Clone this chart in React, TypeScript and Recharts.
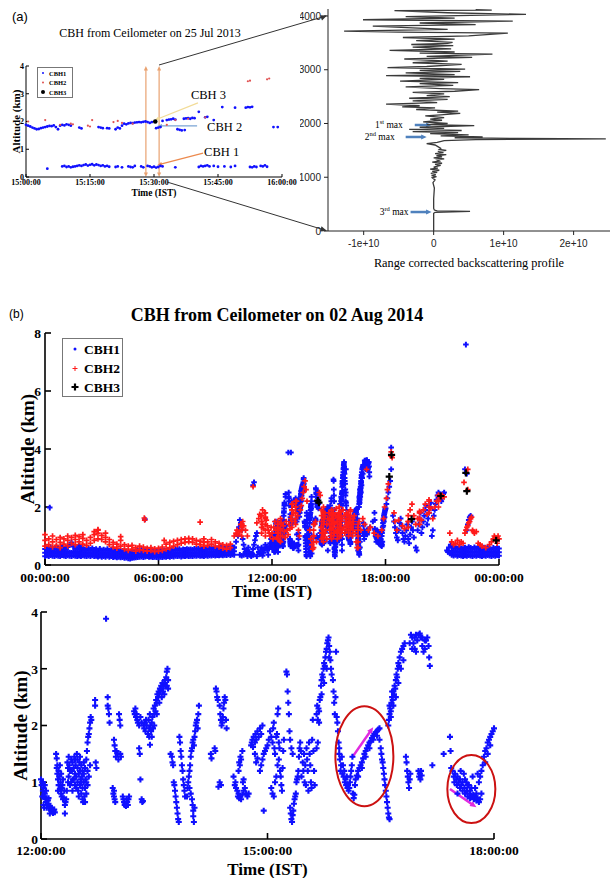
import React from "react";
import { ScatterChart, Scatter, XAxis, YAxis, ReferenceLine, ReferenceDot, Legend } from "recharts";

const SERIF = "'Liberation Serif', 'Times New Roman', serif";
const SANS = "'Liberation Sans', Arial, sans-serif";
const BLUE = "#1010ff";
const RED = "#ff1a1a";
const BLACK = "#000000";

// ---------- Panel (a) left : minutes after 15:00, altitude km ----------
const A_TICKS = [0, 15, 30, 45, 60];
const A_TICK_LABELS = ["15:00:00", "15:15:00", "15:30:00", "15:45:00", "16:00:00"];
const A_YTICKS = [0, 1, 2, 3, 4];
const A_CBH1: [number, number][] = [
  [0, 1.88], [0.5, 1.85], [1, 1.82], [1.5, 1.78], [2, 1.75], [2.5, 1.72], [3, 1.73], [3.5, 1.76], [4, 1.78], [4.5, 1.8],
  [5, 1.82], [5.5, 1.84], [6, 1.83], [6.5, 1.86], [7, 1.8], [7.5, 1.72], [8, 1.85], [8.5, 1.88], [9, 1.86], [9.5, 1.9],
  [10, 1.88], [10.5, 1.85], [12.5, 1.78], [13, 1.75], [17, 1.8], [17.5, 1.78], [18, 1.76], [19, 1.76], [19.5, 1.75],
  [21, 1.72], [21.5, 1.78], [22, 1.75], [22.5, 1.85], [23, 1.92], [23.5, 1.9], [24, 1.93], [24.5, 1.95], [25, 1.94],
  [25.5, 1.96], [26, 1.97], [26.5, 1.98], [27, 1.97], [27.5, 1.99], [28, 2.0], [28.5, 1.98], [29, 1.95], [29.5, 1.98],
  [30.5, 1.76], [31, 1.78], [31.5, 1.8], [32, 2.02], [33, 2.05], [33.5, 2.07], [34, 2.08], [34.5, 2.1], [35, 2.07],
  [35.5, 1.72], [36, 1.7], [36.5, 1.68], [37.2, 1.69], [37, 2.1], [37.5, 2.11], [38, 2.12], [38.5, 2.1], [39, 2.13],
  [39.5, 2.12], [40.5, 2.35], [42, 2.15], [42.5, 2.17], [44, 2.05], [46, 2.52], [49, 2.5], [51.5, 2.5], [52, 2.52],
  [52.5, 2.51], [53, 2.53], [58, 1.8], [59, 1.8],
  [5, 0.3], [8.5, 0.38], [9, 0.4], [9.5, 0.36], [10, 0.38], [10.5, 0.35], [11, 0.37], [11.5, 0.38], [12, 0.4], [12.5, 0.42],
  [13, 0.4], [13.5, 0.43], [14, 0.45], [14.5, 0.41], [15, 0.44], [15.5, 0.46], [16, 0.42], [16.5, 0.45], [17, 0.43],
  [17.5, 0.4], [18, 0.42], [18.5, 0.38], [19, 0.4], [19.5, 0.37], [21, 0.36], [21.5, 0.38], [22.5, 0.35], [24, 0.38],
  [24.5, 0.36], [25, 0.35], [25.5, 0.4], [27, 0.38], [27.5, 0.35], [28.5, 0.4], [29, 0.38], [29.5, 0.35], [30, 0.37],
  [30.5, 0.34], [31, 0.36], [31.5, 0.4], [32, 0.38], [35, 0.35], [40.5, 0.36], [41, 0.4], [41.5, 0.38], [42, 0.4],
  [42.5, 0.42], [43, 0.38], [44, 0.4], [45, 0.37], [46.5, 0.38], [48, 0.36], [49, 0.4], [52.5, 0.36], [53, 0.35],
  [53.5, 0.38], [54, 0.36], [55, 0.4], [55.5, 0.38], [56, 0.42], [56.5, 0.37],
];
const A_CBH2: [number, number][] = [
  [0.5, 2.0], [4.5, 2.05], [8, 1.88], [10.5, 1.92], [11, 1.9], [14.5, 1.85], [15, 1.82], [15.5, 2.05], [20.5, 1.98],
  [21.5, 2.02], [22.5, 1.95], [25, 1.92], [33, 1.88], [35, 2.05], [38, 2.1], [42, 2.15], [52, 3.45], [52.5, 3.47],
  [56.5, 3.52], [57, 3.55],
];
const A_CBH3: [number, number][] = [[30.3, 2.0]];

// ---------- Panel (a) right : backscatter (x 1e10), altitude m ----------
const PROFILE_XTICKS = [-1, 0, 1, 2];
const PROFILE_YTICKS = [0, 1000, 2000, 3000, 4000];
const PROFILE: [number, number][] = [
  [0, 0], [0, 330], [0.02, 345], [0.52, 365], [0.05, 375], [0.01, 390], [0, 420], [0, 600], [0.01, 800], [-0.01, 900],
  [0.02, 950], [-0.02, 990], [0.04, 1010], [-0.03, 1030], [0.03, 1050], [-0.04, 1070], [0.05, 1090], [-0.02, 1110],
  [0.08, 1130], [-0.05, 1150], [0.06, 1170], [0, 1190], [0.1, 1220], [0.02, 1240], [0.12, 1260], [-0.02, 1280],
  [0.08, 1300], [0.05, 1320], [0.15, 1340], [0, 1360], [0.12, 1380], [0.04, 1400], [0.18, 1420], [0.02, 1440],
  [0.14, 1460], [0.06, 1480], [0.18, 1500], [0.08, 1520], [0.1, 1540], [0.06, 1570], [0.02, 1600], [-0.1, 1625],
  [0.05, 1650], [0.15, 1680], [0.6, 1700], [2.46, 1715], [1.2, 1722], [0.3, 1735], [0.7, 1750], [0.1, 1770],
  [0.5, 1790], [-0.05, 1810], [0.35, 1830], [-0.3, 1850], [0.4, 1870], [-0.35, 1890], [0.15, 1910], [-0.2, 1930],
  [0.58, 1960], [-0.1, 1980], [0.2, 2000], [-0.15, 2030], [0.12, 2060], [-0.05, 2080], [0.15, 2110], [-0.12, 2140],
  [0.1, 2160], [0.38, 2190], [0.05, 2210], [0.35, 2230], [-0.25, 2260], [0.02, 2290], [-0.45, 2310], [-0.2, 2330],
  [-0.68, 2360], [0.05, 2390], [-0.3, 2420], [0.2, 2450], [-0.35, 2470], [0.23, 2500], [-0.1, 2520], [0.15, 2550],
  [-0.3, 2580], [0.3, 2600], [0.65, 2630], [0.1, 2650], [-0.4, 2680], [0.28, 2710], [-0.2, 2740], [0.35, 2760],
  [-0.48, 2790], [0.15, 2820], [-0.2, 2840], [0.52, 2870], [-0.68, 2890], [0.3, 2910], [-0.4, 2940], [0.38, 2970],
  [-0.2, 2990], [0.45, 3010], [-0.66, 3040], [-0.1, 3060], [0.4, 3100], [-0.3, 3130], [0.2, 3160], [-0.42, 3200],
  [0.55, 3230], [-0.1, 3250], [0.84, 3290], [-0.2, 3310], [0.3, 3330], [-0.63, 3360], [0.25, 3390], [-0.3, 3420],
  [0.28, 3450], [-0.32, 3470], [0.2, 3490], [0.27, 3510], [-0.25, 3540], [0.3, 3570], [-0.44, 3600], [0.5, 3630],
  [1.06, 3680], [-0.5, 3700], [-1.28, 3720], [0.2, 3750], [-0.3, 3780], [-0.87, 3810], [0.6, 3840], [-0.2, 3870],
  [1.13, 3905], [-1.01, 3930], [0.3, 3960], [-0.4, 3990], [1.32, 4030], [0.2, 4060], [-0.56, 4100], [0.83, 4110],
  [0.6, 4120],
];

// ---------- Panel (b) : hours of day, altitude km ----------
const B_TICKS = [0, 6, 12, 18, 24];
const B_TICK_LABELS = ["00:00:00", "06:00:00", "12:00:00", "18:00:00", "00:00:00"];
const B_YTICKS = [0, 2, 4, 6, 8];
// rows: [hour, altitudes...]
const B_CBH1_BAND: number[][] = [
  [0.0, .30, .42, .55], [0.1, .33, .45, .58], [0.2, .30, .40, .52], [0.3, .34, .46, .60], [0.4, .31, .43, .56],
  [0.5, .30, .41, .53], [0.6, .33, .45, .62], [0.7, .31, .42, .55], [0.8, .30, .40, .52], [0.9, .34, .47, .60],
  [1.0, .32, .44, .57], [1.1, .30, .41, .54], [1.2, .33, .46, .62], [1.3, .31, .43, .70], [1.4, .30, .42, .78],
  [1.5, .33, .46, .64], [1.6, .31, .44, .58], [1.7, .30, .41, .55], [1.8, .32, .45, .66], [1.9, .30, .42, .56],
  [2.0, .33, .44, .58], [2.1, .31, .42, .54], [2.2, .30, .40, .52], [2.3, .32, .43, .56], [2.4, .30, .41, .53],
  [2.5, .33, .44, .58], [2.6, .30, .40, .52], [2.7, .31, .42, .55], [2.8, .29, .39, .50], [2.9, .31, .42, .56],
  [3.0, .28, .38, .50], [3.1, .30, .41, .53], [3.2, .28, .39, .51], [3.3, .31, .42, .55], [3.4, .28, .38, .49],
  [3.5, .30, .40, .52], [3.6, .27, .37, .48], [3.7, .29, .39, .51], [3.8, .26, .36, .47], [3.9, .28, .38, .50],
  [4.0, .26, .35, .46], [4.1, .27, .37, .49], [4.2, .24, .34, .45], [4.3, .25, .35, .47], [4.4, .23, .33, .44],
  [4.5, .22, .32, .43], [4.6, .24, .34, .46], [4.7, .25, .35, .45], [4.8, .26, .36, .48], [4.9, .27, .38, .50],
  [5.0, .28, .38, .49], [5.1, .29, .40, .52], [5.2, .27, .37, .48], [5.3, .29, .39, .51], [5.4, .30, .40, .53],
  [5.5, .28, .38, .50], [5.6, .29, .40, .52], [5.7, .27, .37, .48], [5.8, .28, .39, .51], [5.9, .27, .37, .49],
  [6.0, .26, .36, .47], [6.1, .28, .38, .50], [6.2, .27, .37, .48], [6.3, .29, .39, .51], [6.4, .28, .38, .49],
  [6.5, .30, .40, .52], [6.6, .28, .38, .50], [6.7, .30, .40, .53], [6.8, .29, .39, .51], [6.9, .31, .41, .54],
  [7.0, .30, .40, .52], [7.1, .31, .42, .55], [7.2, .29, .39, .51], [7.3, .31, .41, .54], [7.4, .30, .40, .52],
  [7.5, .32, .42, .55], [7.6, .30, .40, .53], [7.7, .31, .41, .54], [7.8, .30, .40, .52], [7.9, .32, .43, .56],
  [8.0, .31, .41, .54], [8.1, .33, .43, .56], [8.2, .31, .41, .53], [8.3, .32, .42, .55], [8.4, .30, .40, .53],
  [8.5, .33, .44, .57], [8.6, .31, .42, .55], [8.7, .33, .44, .58], [8.8, .32, .43, .56], [8.9, .34, .45, .58],
  [9.0, .32, .43, .56], [9.1, .34, .45, .58], [9.2, .33, .44, .57], [9.3, .35, .46, .60], [9.4, .33, .44, .57],
  [9.5, .35, .47, .61], [9.6, .34, .45, .58], [9.7, .36, .48, .62], [9.8, .34, .46, .59], [9.9, .36, .48, .62],
  [10.0, .35, .47, .60],
  [21.5, .35, .48, .62], [21.6, .32, .45, .58], [21.7, .35, .47, .62], [21.8, .31, .44, .57], [21.9, .34, .46, .60],
  [22.0, .32, .45, .58], [22.1, .30, .42, .55], [22.2, .33, .45, .60], [22.3, .31, .44, .57], [22.4, .34, .47, .62],
  [22.5, .32, .45, .59], [22.6, .30, .43, .56], [22.7, .33, .46, .61], [22.8, .31, .44, .57], [22.9, .34, .47, .63],
  [23.0, .32, .45, .58], [23.1, .30, .42, .55], [23.2, .33, .46, .60], [23.3, .31, .43, .56], [23.4, .34, .46, .60],
  [23.5, .32, .44, .57], [23.6, .30, .42, .54], [23.7, .33, .45, .59], [23.8, .31, .43, .56], [23.9, .34, .46, .60],
  [24.0, .32, .44, .57],
  // dense columns 12-18 h
  [13.4, .5, .7, .9, 1.1], [14.1, .4, .6, .8, 1.0], [15.7, .5, .7, .9, 1.1, 1.3, 1.5, 1.7, 1.9],
  [16.55, .5, .7, .9, 1.1, 1.3], [16.65, .6, .8, 1.0, 1.2], [15.3, .6, .8, 1.0],
];
const B_CBH1_PTS: [number, number][] = [
  [0.25, 1.98], [5.28, 1.58], [11.0, 2.75], [11.05, 2.85],
  [10.0, 0.6], [10.1, 0.8], [10.2, 1.0], [10.25, 1.3], [10.3, 1.55], [10.35, 1.45], [10.4, 1.2], [10.45, 0.9], [10.5, 0.7],
  [10.55, 0.55], [10.6, 0.45], [10.65, 0.38], [10.7, 0.5], [10.75, 0.6], [10.8, 0.45], [10.85, 0.35], [10.9, 0.3],
  [10.95, 0.4], [11.0, 0.55], [11.05, 0.7], [11.1, 0.85], [11.15, 1.0], [11.2, 1.1], [11.25, 0.6], [11.3, 0.45],
  [11.35, 0.38], [11.4, 0.5], [11.45, 0.6], [11.5, 0.5], [11.55, 0.42], [11.6, 0.55], [11.65, 0.7], [11.7, 0.6],
  [11.75, 0.5], [11.8, 0.55], [11.85, 0.65], [11.9, 0.75], [11.95, 0.9], [10.3, 0.35], [10.4, 0.32], [10.5, 0.35],
  [10.7, 0.3], [11.0, 0.35], [11.2, 0.3], [11.5, 0.32], [11.8, 0.35],
  [18.0, 1.95], [18.05, 2.1], [18.1, 2.3], [18.15, 2.5], [18.2, 2.7], [18.25, 2.9], [18.3, 4.05], [18.3, 3.3],
  [18.4, 1.7], [18.45, 1.5], [18.5, 1.3], [18.55, 1.1], [18.6, 0.95], [18.65, 0.85], [18.7, 1.2], [18.75, 1.45],
  [18.8, 1.6], [18.85, 1.35], [18.9, 1.1], [18.95, 0.9], [19.0, 0.8], [19.05, 1.0], [19.1, 1.2], [19.15, 1.4],
  [19.2, 0.9], [19.25, 0.75], [19.3, 1.05], [19.35, 1.3], [19.4, 1.5], [19.45, 1.2], [19.5, 0.95], [19.6, 0.6],
  [19.65, 0.5], [19.7, 1.2], [19.75, 1.4], [19.8, 1.6], [19.85, 1.8], [19.9, 1.1], [19.95, 1.3], [20.0, 1.5],
  [20.05, 1.7], [20.1, 1.9], [20.15, 2.05], [20.2, 1.4], [20.25, 1.6], [20.3, 1.8], [20.35, 2.0], [20.4, 2.15],
  [20.45, 1.0], [20.5, 1.2], [20.55, 1.7], [20.6, 1.9], [20.65, 2.1], [20.7, 2.25], [20.75, 2.4], [20.8, 2.5],
  [20.85, 2.45], [20.9, 2.35], [20.95, 2.2], [21.0, 2.3], [21.05, 2.45], [21.1, 2.5], [21.25, 0.5], [21.3, 0.45],
  [21.35, 0.6], [21.4, 0.4], [21.45, 0.7], [22.25, 7.6], [22.2, 3.3], [22.3, 3.15], [22.3, 1.2], [22.35, 1.4],
  [22.4, 1.55], [22.45, 1.65], [22.5, 1.7], [13.0, 3.88],
];
const B_CBH2_BAND: number[][] = [
  [0.0, .65, .85, 1.05], [0.2, .70, .90], [0.4, .62, .80, 1.0], [0.6, .68, .88], [0.8, .60, .78, .95], [1.0, .72, .90],
  [1.2, .66, .85, 1.0], [1.4, .75, .95], [1.6, .70, .88, 1.02], [1.8, .80, .98], [2.0, .72, .92, 1.05], [2.2, .68, .85],
  [2.4, .75, .95], [2.6, .85, 1.05, 1.15], [2.8, .90, 1.1, 1.2], [3.0, .88, 1.02], [3.2, .80, .95, 1.1], [3.4, .70, .88],
  [3.6, .62, .78], [3.8, .58, .72], [4.0, .65, .85, .98], [4.2, .55, .70], [4.4, .50, .65], [4.6, .55, .68],
  [4.8, .48, .60], [5.0, .52, .65], [5.2, .50, .62], [5.4, .48, .58], [5.6, .50, .60], [5.8, .46, .56], [6.0, .48, .58],
  [6.2, .50, .62], [6.4, .55, .72], [6.6, .60, .78], [6.8, .65, .82], [7.0, .70, .85], [7.2, .75, .88], [7.4, .78, .90],
  [7.6, .80, .92], [7.8, .78, .90], [8.0, .72, .85], [8.2, .70, .82], [8.4, .65, .78, .90], [8.6, .68, .80],
  [8.8, .72, .88], [9.0, .65, .80], [9.2, .62, .75], [9.4, .58, .70], [9.6, .55, .68], [9.8, .60, .72],
  // dense red columns
  [10.4, 1.0, 1.2, 1.4], [11.45, 1.1, 1.3, 1.5, 1.7], [11.65, 1.0, 1.2, 1.4, 1.6, 1.8],
  [12.3, .9, 1.1, 1.3, 1.5], [12.45, .8, 1.0, 1.2, 1.4, 1.6], [13.05, 1.3, 1.5, 1.7, 1.9, 2.1],
  [13.25, 1.4, 1.6, 1.8, 2.0, 2.2], [14.2, .6, .8, 1.0, 1.2, 1.4], [14.62, .9, 1.1, 1.3, 1.5, 1.7, 1.9],
  [14.72, .8, 1.0, 1.2, 1.4, 1.6, 1.8, 2.0], [15.05, 1.2, 1.4, 1.6, 1.8], [15.15, .9, 1.1, 1.3, 1.5, 1.7, 1.9],
  [15.25, 1.0, 1.2, 1.4, 1.6, 1.8], [15.45, .9, 1.1, 1.3, 1.5, 1.7], [15.55, 1.0, 1.2, 1.4, 1.6, 1.8, 2.0],
  [15.65, 1.1, 1.3, 1.5, 1.7], [15.95, 1.2, 1.4, 1.6, 1.8], [16.05, 1.0, 1.2, 1.4, 1.6],
  [16.15, 1.1, 1.3, 1.5, 1.7, 1.9], [16.28, 1.2, 1.4, 1.6], [16.55, .6, .8, 1.0, 1.2, 1.4],
  [19.2, 1.3, 1.5, 1.7], [19.8, 1.4, 1.6, 1.8], [20.3, 1.8, 2.0, 2.2], [20.8, 2.0, 2.2, 2.4],
];
const B_CBH2_PTS: [number, number][] = [
  [5.25, 1.62], [5.27, 1.55], [8.2, 1.48], [6.3, 0.85], [2.8, 1.22],
  [10.0, 1.0], [10.1, 1.1], [10.15, 1.2], [10.2, 1.05], [10.3, 1.15], [10.35, 1.4], [10.4, 1.3], [10.45, 1.5],
  [10.5, 1.35], [10.6, 1.2], [10.7, 1.0], [11.0, 2.7], [11.3, 1.6], [11.35, 1.75], [11.4, 1.7], [11.45, 1.5],
  [11.5, 1.4], [11.55, 1.25], [11.6, 1.8], [11.65, 1.65], [11.7, 1.55], [11.75, 1.35], [11.8, 1.2], [11.85, 1.1],
  [11.9, 1.0], [11.95, 1.3], [11.5, 1.9], [11.2, 1.45],
  [12.0, 1.1], [12.05, 0.9], [12.1, 1.3], [12.15, 1.5], [12.2, 1.2], [12.25, 0.95], [12.3, 1.4], [12.35, 1.1],
  [12.4, 0.85], [12.45, 1.25], [12.5, 1.45], [12.55, 1.0], [12.6, 1.35], [12.65, 1.15], [12.7, 0.95], [12.75, 1.5],
  [12.8, 1.2], [12.85, 1.05], [12.9, 1.4], [12.95, 1.25], [13.0, 1.6], [13.05, 1.9], [13.1, 2.1], [13.15, 1.8],
  [13.2, 1.5], [13.25, 2.0], [13.3, 2.2], [13.35, 1.7], [13.4, 1.2], [13.45, 1.0], [13.5, 1.9], [13.55, 2.05],
  [13.6, 2.3], [13.65, 2.5], [13.7, 2.7], [13.75, 2.9], [13.8, 2.6], [13.85, 2.2], [14.0, 1.2], [14.05, 0.9],
  [14.1, 0.7], [14.15, 0.55], [14.2, 1.0], [14.25, 1.4], [14.3, 1.5], [14.35, 0.8], [14.5, 2.5], [14.55, 2.4],
  [14.6, 1.3], [14.65, 1.1], [14.7, 0.95], [14.75, 1.5], [14.8, 1.7], [14.85, 1.2], [14.9, 0.9], [14.95, 1.6],
  [15.0, 1.8], [15.05, 1.4], [15.1, 1.0], [15.15, 1.9], [15.2, 1.6], [15.25, 1.3], [15.3, 1.1], [15.35, 1.7],
  [15.4, 1.95], [15.45, 1.5], [15.5, 1.2], [15.55, 1.8], [15.6, 1.4], [15.65, 1.0], [15.7, 1.6], [15.75, 1.9],
  [15.8, 1.3], [15.85, 1.1], [15.9, 1.5], [15.95, 1.75], [16.0, 1.4], [16.05, 1.2], [16.1, 1.6], [16.15, 1.85],
  [16.2, 1.3], [16.25, 1.0], [16.3, 1.5], [16.35, 1.7], [16.4, 1.1], [16.45, 0.8], [16.5, 0.6], [16.55, 1.3],
  [16.6, 1.5], [16.7, 1.2], [16.8, 1.6], [16.9, 1.4], [17.0, 3.3], [17.1, 1.2], [17.2, 1.3], [17.4, 1.1],
  [17.6, 1.0], [17.8, 1.2], [17.9, 1.6], [17.95, 2.0], [15.02, 1.55], [15.12, 1.25], [15.22, 1.75], [15.32, 1.45],
  [15.42, 1.15], [15.52, 1.65], [15.62, 1.85], [15.72, 1.2], [15.82, 1.7], [15.92, 1.3], [16.02, 1.75], [16.12, 1.45],
  [14.7, 1.85], [14.8, 1.1], [14.9, 1.4],
  [18.05, 2.3], [18.1, 2.6], [18.15, 2.8], [18.3, 3.75], [18.35, 3.7], [18.3, 3.9],
  [18.45, 1.8], [18.5, 1.5], [18.6, 1.2], [18.7, 1.55], [18.9, 1.35], [19.0, 1.25], [19.2, 1.5], [19.3, 1.9],
  [19.4, 2.1], [19.5, 1.7], [19.6, 1.4], [19.7, 1.6], [19.8, 1.85], [19.9, 1.55], [20.0, 1.9], [20.1, 2.1],
  [20.2, 1.75], [20.3, 2.25], [20.4, 1.95], [20.5, 1.6], [20.6, 2.0], [20.7, 2.2], [20.8, 2.4], [20.9, 2.3],
  [21.0, 2.4], [21.1, 2.35], [21.4, 1.1], [21.5, 0.8], [21.6, 0.7], [21.7, 0.75], [21.8, 0.85], [21.9, 0.7],
  [22.0, 0.8], [22.1, 0.75], [22.15, 2.85], [22.35, 2.6], [22.35, 3.3], [22.2, 1.1], [22.25, 1.2], [22.3, 1.3],
  [22.35, 1.35], [22.4, 1.45], [22.45, 1.5], [22.5, 1.6], [22.55, 1.65], [22.6, 1.2], [22.65, 1.15], [22.7, 1.1],
  [22.8, 1.15], [22.9, 0.75], [23.0, 0.7], [23.1, 0.65], [23.3, 0.6], [23.5, 0.7], [23.6, 0.8], [23.7, 0.9],
  [23.75, 1.0], [23.8, 0.95], [23.85, 0.85], [23.9, 0.75], [23.95, 1.0], [24.0, 0.9],
];
const B_CBH3: [number, number][] = [
  [14.42, 2.22], [14.48, 2.15], [18.2, 3.05], [18.32, 3.8], [19.38, 1.58], [20.92, 2.38], [22.25, 3.18], [22.3, 2.55],
  [23.85, 0.85],
];

// ---------- Bottom panel : minutes after 12:00, CBH1 altitude km ----------
const C_TICKS = [0, 180, 360];
const C_TICK_LABELS = ["12:00:00", "15:00:00", "18:00:00"];
const C_YTICKS = [0, 1, 2, 3, 4];
const C_CBH1: [number, number][] = [
  [0, 1.05], [0.5, 0.95], [1, 1.0], [1, 0.75], [1.5, 0.85], [2, 0.9], [2, 0.6], [2.5, 0.75], [3, 0.8], [3, 0.95],
  [3.5, 0.7], [4, 0.65], [4, 0.85], [4.5, 0.72], [5, 0.6], [5.5, 0.68], [6, 0.62], [6.5, 0.55], [7, 0.58], [7.5, 0.52],
  [8, 0.5], [8.5, 0.55], [9, 0.48], [9.5, 0.46], [10, 0.5], [10.5, 0.52], [11, 0.47],
  [1.5, 1.0], [2.5, 0.55], [4.5, 0.55], [6, 0.72], [7, 0.45],
  [12, 1.5], [12.5, 1.42], [13, 1.3], [13, 1.15], [13.5, 1.05], [14, 1.2], [14, 0.95], [14.5, 1.1], [15, 0.88],
  [15.5, 1.0], [16, 0.8], [16, 1.15], [16.5, 0.75], [17, 0.95], [17.5, 0.7], [18, 0.72], [18.5, 0.85], [19, 0.45],
  [19.5, 0.65], [20, 0.7], [21, 1.35], [21.5, 1.25], [22, 1.45], [22, 1.1], [22.5, 1.3], [23, 1.2], [23, 0.95],
  [12.5, 1.25], [13.5, 0.85], [15, 1.3], [16.5, 0.9], [17.5, 1.05], [19, 0.6], [20.5, 0.85], [21.5, 1.0],
  [24, 1.4], [24.5, 1.2], [25, 1.35], [25.5, 1.05], [26, 1.25], [26.5, 1.45], [27, 1.15], [27, 0.95], [27.5, 1.3],
  [28, 1.1], [28.5, 1.5], [29, 1.0], [29, 1.25], [29.5, 0.85], [30, 1.15], [30.5, 1.35], [31, 0.95], [31, 1.2],
  [31.5, 1.05], [32, 0.8], [32, 1.3], [32.5, 1.1], [33, 0.9], [33, 1.2], [33.5, 0.65], [34, 1.0], [34, 1.15],
  [34.5, 0.75], [35, 0.9], [35, 1.25], [35.5, 1.05], [36, 1.4], [36.5, 1.55], [37, 1.7], [37.5, 1.8], [38, 1.85],
  [38.5, 1.95], [39, 2.05], [39.5, 2.15], [40, 2.1], [36, 0.8], [37, 0.95],
  [24, 1.0], [25, 0.85], [26, 1.05], [27, 1.4], [28, 0.9], [29, 1.4], [30, 0.75], [31, 1.45], [32, 1.0], [33, 0.7],
  [34, 1.35], [35, 0.65], [36, 1.0], [37, 1.2], [38, 1.1], [39, 1.3],
  [43, 2.45], [43, 2.35], [43.5, 1.35], [44, 1.25],
  [51.7, 3.88], [53, 2.5], [53, 2.35], [53.5, 2.3], [54, 2.2], [54.5, 2.05], [58, 1.75], [58.5, 1.65], [59, 1.55],
  [59.5, 1.45], [60, 1.55], [61, 1.5], [61.5, 1.4], [62, 2.2], [62.5, 2.1], [63, 2.0], [63, 1.5], [63.5, 1.45],
  [57, 0.9], [57.5, 0.8], [58, 0.75], [58, 0.85], [58.5, 0.7], [59, 0.65],
  [65, 0.75], [65.5, 0.7], [66, 0.65], [66.5, 0.6], [67, 0.62], [67.5, 0.58], [68, 0.7], [68.5, 0.65], [69, 0.6],
  [69.5, 0.7], [70, 0.75],
  [74, 2.25], [74.5, 2.2], [75, 2.3], [75.5, 2.15], [76, 2.2], [76.5, 2.1], [77, 2.05], [78, 2.0], [78, 1.6],
  [78.5, 1.5], [79, 1.05], [80, 0.7], [80.5, 0.65], [81, 0.67], [81.5, 2.0], [82, 1.95], [82.5, 2.05], [83, 1.9],
  [83.5, 2.1], [80, 2.05], [79, 2.15],
  [84, 2.0], [85, 1.85], [85.5, 2.1], [86, 1.95], [86.5, 2.2], [86.6, 1.66], [87, 2.0], [87.5, 1.9], [88, 2.05],
  [88.5, 2.15], [89, 1.95], [89.5, 2.3], [90, 2.2], [90.5, 2.35], [91, 2.25], [91.5, 2.45], [92, 2.4], [92.5, 2.55],
  [93, 2.5], [93.5, 2.6], [94, 2.55], [94.5, 2.65], [95, 2.6], [95.5, 2.7], [96, 2.65], [96.5, 2.75], [97, 2.6],
  [97.5, 2.7], [98, 2.75], [98.5, 2.8], [99, 2.7], [99.5, 2.85], [100, 2.95], [100.5, 3.0], [101, 2.8], [101, 2.65],
  [90, 2.0], [92, 2.2], [94, 2.4], [96, 2.5], [98, 2.55], [100, 2.7], [88, 1.8], [86, 1.8],
  [103, 1.5], [104, 1.45], [104.5, 1.35], [105, 1.3], [105.5, 1.0], [106, 0.95], [106.5, 0.85], [107, 0.75],
  [107.5, 0.65], [108, 0.55], [108.5, 0.45], [109, 0.35], [109.5, 0.3], [110, 1.8], [110.5, 1.7], [111, 1.55],
  [111.5, 1.45], [112, 1.3], [112.5, 1.2], [113, 1.05], [113.5, 0.95], [114, 0.85], [114.5, 0.75],
  [116, 0.75], [116.5, 0.9], [117, 1.0], [117.5, 1.1], [118, 1.2], [118.5, 1.3], [119, 1.45], [119.5, 1.55],
  [120, 1.6], [120.5, 1.7], [121, 1.75], [121.5, 1.65], [122, 1.8], [122.5, 1.9], [123, 2.0], [123.5, 2.05],
  [124, 2.1], [124.5, 1.95], [125, 2.2], [125.5, 2.35], [120, 0.7], [120.5, 0.6], [121, 0.5], [121, 0.4],
  [121.5, 0.3], [122, 0.55], [118, 0.9], [119, 0.8],
  [135, 1.5], [135.5, 1.42], [138, 1.6], [138.5, 1.55], [139, 2.65], [139.5, 2.6], [140, 2.5], [140.5, 2.45],
  [141, 0.92], [142, 2.35], [142, 1.0], [142.5, 2.2], [143, 2.1], [143, 0.95], [143.5, 2.0], [144, 2.05],
  [144.5, 2.15], [145, 2.3], [145.5, 2.4], [146, 2.5], [146.5, 2.45], [147, 2.1], [147.5, 1.95],
  [153, 1.1], [154, 0.95], [154.5, 1.0], [155, 0.9], [156, 0.85], [156.5, 0.75], [157, 0.8], [157.5, 0.72],
  [158, 0.75], [159, 0.7], [160, 0.78], [161, 0.85], [162, 0.9], [163, 0.8], [164, 0.75], [165, 0.8], [157, 1.2],
  [157.5, 1.35], [158, 1.3], [158.5, 1.45], [159, 1.4], [160, 1.55], [160.5, 1.0], [161, 1.05],
  [167, 1.65], [167.5, 1.7], [168, 1.75], [168.5, 1.62], [169, 1.8], [170, 1.7], [170.5, 1.85], [171, 1.75],
  [172, 1.9], [173, 1.8], [174, 1.95], [175, 1.85], [176, 2.0], [177, 0.5], [170, 1.5], [171, 1.35], [172, 1.42],
  [174, 1.2], [175, 1.3], [176, 1.4], [177, 1.5], [178, 1.55], [179, 1.6], [180, 1.65], [181, 1.75],
  [182, 1.9], [183, 1.8], [184, 1.7], [184.5, 1.95], [185, 2.05], [185.5, 1.6], [186, 1.5], [187, 1.8],
  [187.5, 1.85], [188, 2.2], [188.5, 2.3], [189, 1.7], [189.5, 1.6], [190, 1.2], [190.5, 1.1], [191, 0.95],
  [191.5, 0.85], [192, 1.25], [192.5, 1.55], [193, 1.75], [183, 0.9], [184, 0.8], [185, 0.75], [186, 1.0],
  [187, 1.1], [188, 1.3], [189, 1.4],
  [195, 2.95], [195.5, 2.9], [196, 2.6], [196.5, 2.4], [197, 2.2], [197.5, 1.9], [198, 1.75], [199, 1.6],
  [200, 1.5], [198, 0.55], [198.5, 0.45], [199, 0.35], [199.5, 0.3], [200, 0.42], [200.5, 0.5], [201, 0.62],
  [201.5, 0.7], [202, 0.75], [202.5, 0.8], [203, 1.0], [203.5, 1.05], [204, 1.1], [204.5, 1.2], [205, 1.45],
  [205.5, 1.6], [206, 1.7], [206.5, 1.55],
  [207, 1.1], [208, 1.35], [208.5, 1.2], [209, 1.5], [209.5, 1.0], [210, 1.3], [210.5, 0.95], [211, 1.6],
  [211.5, 1.4], [212, 1.2], [212.5, 0.85], [213, 1.7], [213.5, 1.5], [214, 1.3], [214.5, 1.0], [215, 0.9],
  [215.5, 1.75], [216, 2.1], [216.5, 1.55], [217, 1.2], [217.5, 0.95],
  [219, 2.2], [219.5, 2.35], [220, 2.1], [220.5, 2.3], [221, 2.25], [221.5, 2.45], [222, 2.5], [222.5, 2.7],
  [223, 2.8], [223.5, 2.9], [224, 2.85], [224.5, 3.0], [225, 3.1], [225.5, 3.05], [226, 3.2], [226.5, 3.3],
  [227, 3.35], [227.5, 3.45], [228, 3.5], [228.5, 3.55], [229, 3.4], [229.5, 3.3], [230, 3.15], [230.5, 3.0],
  [231, 2.9], [219, 1.6], [220, 1.7], [221, 2.05], [223, 2.55], [225, 2.75], [227, 3.0], [229, 3.2],
  [232, 2.8], [232.5, 2.6], [233, 2.4], [233.5, 2.2], [234, 2.5], [234.5, 3.3], [235, 2.15], [235.5, 2.05],
  [236, 1.9], [236.5, 1.7], [237, 1.5],
  [237, 1.6], [237.5, 1.4], [238, 1.2], [238.5, 1.3], [239, 1.45], [239.5, 1.15], [240, 1.3], [240.5, 1.1],
  [241, 1.2], [241.5, 1.0], [242, 1.05], [242.5, 0.95], [243, 1.1], [243.5, 0.9], [244, 0.95], [244.5, 0.85],
  [245, 0.9], [245.5, 1.0], [246, 1.1], [246.5, 1.2], [247, 1.3], [247.5, 1.45], [248, 0.8], [248.5, 0.72],
  [249, 0.78],
  [249.5, 0.95], [250, 1.05], [251, 1.12], [252, 1.2], [253, 1.25], [254, 1.3], [255, 1.35], [256, 1.42],
  [257, 1.5], [258, 1.55], [259, 1.6], [260, 1.65], [261, 1.7], [262, 1.72], [263, 1.78], [264, 1.82], [265, 1.85],
  [266, 1.88], [267, 1.9], [268, 1.93], [269, 1.95], [252, 1.1], [255, 1.25], [258, 1.45], [261, 1.6], [264, 1.75],
  [267, 1.82],
  [269, 1.75], [270, 1.6], [270.5, 1.5], [271, 1.4], [271.5, 1.35], [272, 1.25], [272.5, 1.15], [273, 1.05],
  [273.5, 0.95], [274, 0.85], [274.5, 0.75], [275, 0.65], [275.5, 0.55], [276, 0.45], [276.5, 0.38], [277, 0.35],
  [276, 2.0], [276.5, 2.1], [277, 2.2], [277.5, 2.3], [278, 2.25], [278.5, 2.4], [279, 2.5], [279.5, 2.45],
  [280, 2.6], [280.5, 2.55], [281, 2.7], [281.5, 2.65], [282, 2.8], [282.5, 2.9], [283, 2.85], [283.5, 3.0],
  [284, 3.1], [284.5, 3.05], [285, 3.2], [286, 3.3], [287, 3.35], [288, 3.4], [277, 2.35], [278, 2.15], [279, 2.6],
  [280, 2.35], [282, 2.5], [284, 2.75], [286, 3.0], [288, 3.15], [289, 3.45],
  [290, 1.45], [290.5, 1.35], [291, 1.2], [291.5, 1.1], [292, 1.0], [292.5, 0.9], [293, 1.05], [293.5, 1.15],
  [293, 3.45], [294, 3.6], [295, 3.55], [296, 3.45], [297, 3.35], [298, 3.3], [298, 3.6], [299, 3.5], [300, 3.6],
  [301, 3.62], [302, 3.55], [303, 3.4], [304, 3.3], [305, 3.35], [306, 3.5], [307, 3.55], [308, 3.4],
  [308.5, 3.2], [309, 3.05], [295, 3.35], [297, 3.55], [303, 3.55], [305, 3.5],
  [300, 1.2], [300.5, 1.1], [301, 1.15], [301.5, 1.05], [302, 1.2], [302.5, 1.12], [311, 1.3],
  [320, 1.5], [325, 1.8], [325.5, 1.55], [326, 1.25], [327, 1.2], [328, 1.1], [328.5, 1.0], [329, 1.15],
  [330, 1.05], [330.5, 0.95], [331, 1.1], [332, 1.0], [333, 0.9], [333.5, 1.2], [334, 0.95], [335, 0.85],
  [336, 1.15], [336.5, 0.9], [337, 0.8], [338, 1.0], [338.5, 0.85], [339, 0.75], [340, 0.95], [340.5, 0.8],
  [341, 0.72], [342, 0.9], [343, 1.1], [343.5, 0.78], [344, 0.7], [345, 0.75], [346, 0.68], [347, 0.72],
  [348, 0.65], [349, 0.7], [350, 0.8], [348, 1.0], [347, 1.15],
  [331, 0.8], [333, 1.05], [335, 1.0], [337, 1.05], [339, 0.95], [341, 0.85], [342, 0.75], [345, 0.9], [346, 0.8],
  [349, 1.1], [350, 1.2], [351, 1.3], [352, 1.45], [353, 1.55], [354, 1.6], [355, 1.7], [356, 1.75], [357, 1.8],
  [358, 1.85], [359, 1.9], [360, 1.95], [353, 1.35], [355, 1.5], [357, 1.65],
];

// ---------- helpers ----------
const pts = (arr: [number, number][]) => arr.map(([x, y]) => ({ x, y }));
const rows = (arr: number[][]) => arr.flatMap(([t, ...a]) => a.map((y) => ({ x: t, y })));

const plus = (color: string, r: number, w: number) => (p: any) => {
  const { cx, cy } = p;
  if (typeof cx !== "number" || typeof cy !== "number") return <g />;
  return <path d={`M${cx - r},${cy}H${cx + r}M${cx},${cy - r}V${cy + r}`} stroke={color} strokeWidth={w} fill="none" />;
};
const dot = (color: string, r: number) => (p: any) => {
  const { cx, cy } = p;
  if (typeof cx !== "number" || typeof cy !== "number") return <g />;
  return <circle cx={cx} cy={cy} r={r} fill={color} />;
};
const none = () => <g />;

type ArrowOpts = {
  color: string; width: number; head: number; both?: boolean;
  label?: React.ReactNode; lx?: number; ly?: number; anchor?: string; fontSize?: number; fontFamily?: string;
};
const arrowShape = (o: ArrowOpts) => (p: any) => {
  const { x1, y1, x2, y2 } = p;
  if ([x1, y1, x2, y2].some((v) => typeof v !== "number" || isNaN(v))) return <g />;
  const a = Math.atan2(y2 - y1, x2 - x1);
  const s = 0.42;
  const hd = (x: number, y: number, ang: number) =>
    `M${x},${y}L${x - o.head * Math.cos(ang - s)},${y - o.head * Math.sin(ang - s)}L${x - o.head * Math.cos(ang + s)},${y - o.head * Math.sin(ang + s)}Z`;
  const k = o.head * 0.7;
  const sx2 = x2 - k * Math.cos(a), sy2 = y2 - k * Math.sin(a);
  const sx1 = o.both ? x1 + k * Math.cos(a) : x1, sy1 = o.both ? y1 + k * Math.sin(a) : y1;
  return (
    <g>
      <line x1={sx1} y1={sy1} x2={sx2} y2={sy2} stroke={o.color} strokeWidth={o.width} />
      <path d={hd(x2, y2, a)} fill={o.color} />
      {o.both ? <path d={hd(x1, y1, a + Math.PI)} fill={o.color} /> : null}
      {o.label ? (
        <text x={x1 + (o.lx || 0)} y={y1 + (o.ly || 0)} textAnchor={o.anchor || "start"} dominantBaseline="central"
          style={{ fontFamily: o.fontFamily || SERIF, fontSize: o.fontSize || 12 }} fill="#000">{o.label}</text>
      ) : null}
    </g>
  );
};

const xLabel = (text: string, dy: number, style: any) => (props: any) => {
  const vb = props.viewBox || {};
  return <text x={vb.x + vb.width / 2} y={vb.y + dy} textAnchor="middle" style={style} fill="#000">{text}</text>;
};
const yLabel = (text: string, cx: number, style: any) => (props: any) => {
  const vb = props.viewBox || {};
  const x = vb.x + cx;
  const y = vb.y + vb.height / 2;
  return <text x={x} y={y} transform={`rotate(-90 ${x} ${y})`} textAnchor="middle" dominantBaseline="central" style={style} fill="#000">{text}</text>;
};
const fmt = (ticks: number[], labels: string[]) => (v: number) => {
  const i = ticks.indexOf(v);
  return i >= 0 ? labels[i] : String(v);
};
const sup = (base: string, s: string, rest: string) => (
  <>
    <tspan>{base}</tspan>
    <tspan dy={-4} style={{ fontSize: 6.5 }}>{s}</tspan>
    <tspan dy={4}>{rest}</tspan>
  </>
);

const LegendBox = ({ w, h, items, fs, mx, tx, rowY }: any) => (
  <svg width={w} height={h} style={{ display: "block" }}>
    <rect x={0.5} y={0.5} width={w - 1} height={h - 1} fill="#fff" stroke="#777" strokeWidth={1} />
    {items.map((it: any, i: number) => (
      <g key={i}>
        {it.kind === "dot" ? <circle cx={mx} cy={rowY[i]} r={it.r} fill={it.color} /> :
          <path d={`M${mx - it.r},${rowY[i]}H${mx + it.r}M${mx},${rowY[i] - it.r}V${rowY[i] + it.r}`} stroke={it.color} strokeWidth={it.w} />}
        <text x={tx} y={rowY[i]} dominantBaseline="central" style={{ fontFamily: SERIF, fontWeight: 700, fontSize: fs }} fill="#000">{it.label}</text>
      </g>
    ))}
  </svg>
);

export default function App() {
  const tickA = { fill: "#000", fontSize: 8, fontFamily: SERIF, fontWeight: 700 };
  const tickB = { fill: "#000", fontSize: 13.5, fontFamily: SERIF, fontWeight: 700 };
  const tickR = { fill: "#222", fontSize: 10, fontFamily: SANS };
  const axisBlk = { stroke: "#000", strokeWidth: 1 };
  const axisThick = { stroke: "#000", strokeWidth: 1.6 };

  const bBlue = [...rows(B_CBH1_BAND), ...pts(B_CBH1_PTS), ...C_CBH1.map(([m, y]) => ({ x: 12 + m / 60, y }))];
  const bRed = [...rows(B_CBH2_BAND), ...pts(B_CBH2_PTS)];

  return (
    <div style={{ position: "absolute", left: 0, top: 0, width: 610, height: 878, background: "#fff", overflow: "hidden" }}>
      {/* (a) left */}
      <div style={{ position: "absolute", left: 0, top: 0 }}>
        <ScatterChart width={300} height={200} margin={{ top: 66, right: 18, bottom: 0, left: 0 }}>
          <XAxis type="number" dataKey="x" domain={[0, 60]} ticks={A_TICKS} interval={0} tickFormatter={fmt(A_TICKS, A_TICK_LABELS)}
            height={23} tick={tickA} tickSize={-3} tickMargin={5} axisLine={axisBlk} tickLine={axisBlk}
            label={xLabel("Time (IST)", 18.5, { fontFamily: SERIF, fontWeight: 700, fontSize: 9.5 })} />
          <XAxis xAxisId="top" orientation="top" type="number" domain={[0, 60]} ticks={A_TICKS} height={0} tick={false} tickSize={-3} axisLine={axisBlk} tickLine={axisBlk} />
          <YAxis type="number" dataKey="y" domain={[0, 4]} ticks={A_YTICKS} interval={0} width={26} tick={tickA} tickSize={-3} tickMargin={5}
            axisLine={axisBlk} tickLine={axisBlk}
            label={yLabel("Altitude (km)", 16, { fontFamily: SERIF, fontWeight: 700, fontSize: 11 })} />
          <YAxis yAxisId="right" orientation="right" type="number" domain={[0, 4]} ticks={A_YTICKS} width={0} tick={false} tickSize={-3} axisLine={axisBlk} tickLine={axisBlk} />
          <Scatter data={pts(A_CBH1)} shape={dot(BLUE, 1.4)} isAnimationActive={false} />
          <Scatter data={pts(A_CBH2)} shape={dot("#e05050", 1.1)} isAnimationActive={false} />
          <Scatter data={pts(A_CBH3)} shape={dot(BLACK, 2.3)} isAnimationActive={false} />
          <ReferenceLine ifOverflow="visible" segment={[{ x: 28.1, y: 0 }, { x: 28.1, y: 4 }]} shape={arrowShape({ color: "#e9a271", width: 1.2, head: 5, both: true })} />
          <ReferenceLine ifOverflow="visible" segment={[{ x: 31.2, y: 0 }, { x: 31.2, y: 4 }]} shape={arrowShape({ color: "#e9a271", width: 1.2, head: 5, both: true })} />
          <ReferenceLine ifOverflow="visible" segment={[{ x: 40.3, y: 2.67 }, { x: 30.2, y: 2.05 }]}
            shape={arrowShape({ color: "#f2dc98", width: 1.2, head: 5, label: "CBH 3", lx: -7, ly: -8, fontSize: 12.5 })} />
          <ReferenceLine ifOverflow="visible" segment={[{ x: 40.1, y: 1.84 }, { x: 30.8, y: 1.84 }]}
            shape={arrowShape({ color: "#7aa3d4", width: 1.3, head: 5, label: "CBH 2", lx: 10, ly: 1, fontSize: 12.5 })} />
          <ReferenceLine ifOverflow="visible" segment={[{ x: 41.5, y: 0.86 }, { x: 30.8, y: 0.43 }]}
            shape={arrowShape({ color: "#ec8a4e", width: 1.3, head: 5, label: "CBH 1", lx: 1, ly: -1, fontSize: 12.5 })} />
          <Legend layout="vertical" align="center" verticalAlign="middle" wrapperStyle={{ left: 37, top: 67, width: 36, height: 31 }}
            content={() => (
              <LegendBox w={36} h={31} fs={6.5} mx={6} tx={12} rowY={[6, 15.5, 25]}
                items={[{ kind: "dot", r: 1, color: BLUE, label: "CBH1" }, { kind: "dot", r: 1, color: "#e05050", label: "CBH2" }, { kind: "dot", r: 2, color: BLACK, label: "CBH3" }]} />
            )} />
        </ScatterChart>
      </div>

      {/* (a) right: profile */}
      <div style={{ position: "absolute", left: 300, top: 0 }}>
        <ScatterChart width={310} height={290} margin={{ top: 9, right: 0, bottom: 0, left: 0 }}>
          <XAxis type="number" dataKey="x" domain={[-1.51, 2.52]} ticks={PROFILE_XTICKS} interval={0} height={59}
            tickFormatter={(v: number) => (v === 0 ? "0" : `${v}e+10`)} tick={tickR} tickSize={4} tickMargin={5}
            axisLine={{ stroke: "#222" }} tickLine={{ stroke: "#222" }}
            label={xLabel("Range corrected backscattering profile", 36, { fontFamily: SERIF, fontSize: 12.3 })} />
          <YAxis type="number" dataKey="y" domain={[0, 4130]} ticks={PROFILE_YTICKS} interval={0} width={28} tick={tickR}
            tickSize={4} tickMargin={3} axisLine={{ stroke: "#222" }} tickLine={{ stroke: "#222" }} />
          <Scatter data={pts(PROFILE)} line={{ stroke: "#3a3a3a", strokeWidth: 1.3 }} shape={none} isAnimationActive={false} />
          <ReferenceLine ifOverflow="visible" segment={[{ x: -0.27, y: 1972 }, { x: -0.03, y: 1972 }]}
            shape={arrowShape({ color: "#4f81bd", width: 2.5, head: 6, label: sup("1", "st", " max"), lx: -12, ly: 0, anchor: "end", fontSize: 9.5 })} />
          <ReferenceLine ifOverflow="visible" segment={[{ x: -0.4, y: 1749 }, { x: -0.1, y: 1749 }]}
            shape={arrowShape({ color: "#4f81bd", width: 2.5, head: 6, label: sup("2", "nd", " max"), lx: -11, ly: 0, anchor: "end", fontSize: 9.5 })} />
          <ReferenceLine ifOverflow="visible" segment={[{ x: -0.33, y: 353 }, { x: -0.03, y: 353 }]}
            shape={arrowShape({ color: "#4f81bd", width: 2.5, head: 6, label: sup("3", "rd", " max"), lx: -2, ly: 0, anchor: "end", fontSize: 9.5 })} />
        </ScatterChart>
      </div>

      {/* (b) full day */}
      <div style={{ position: "absolute", left: 0, top: 300 }}>
        <ScatterChart width={530} height={300} margin={{ top: 33, right: 31, bottom: 0, left: 0 }}>
          <XAxis type="number" dataKey="x" domain={[0, 24]} ticks={B_TICKS} interval={0} tickFormatter={fmt(B_TICKS, B_TICK_LABELS)}
            height={35} tick={tickB} tickSize={-6} tickMargin={13} axisLine={axisThick} tickLine={axisThick}
            label={xLabel("Time (IST)", 32, { fontFamily: SERIF, fontWeight: 700, fontSize: 17 })} />
          <XAxis xAxisId="top" orientation="top" type="number" domain={[0, 24]} ticks={B_TICKS} height={0} tick={false} tickSize={-6} axisLine={axisThick} tickLine={axisThick} />
          <YAxis type="number" dataKey="y" domain={[0, 8]} ticks={B_YTICKS} interval={0} width={45} tick={tickB} tickSize={-6} tickMargin={10}
            axisLine={axisThick} tickLine={axisThick}
            label={yLabel("Altitude (km)", 27, { fontFamily: SERIF, fontWeight: 700, fontSize: 19 })} />
          <YAxis yAxisId="right" orientation="right" type="number" domain={[0, 8]} ticks={B_YTICKS} width={0} tick={false} tickSize={-6} axisLine={axisThick} tickLine={axisThick} />
          <Scatter data={bBlue} shape={plus(BLUE, 2.8, 2)} isAnimationActive={false} />
          <Scatter data={bRed} shape={plus(RED, 2.8, 1.7)} isAnimationActive={false} />
          <Scatter data={pts(B_CBH3)} shape={plus(BLACK, 3.6, 2.2)} isAnimationActive={false} />
          <Legend layout="vertical" align="center" verticalAlign="middle" wrapperStyle={{ left: 62, top: 38, width: 61, height: 59 }}
            content={() => (
              <LegendBox w={61} h={59} fs={13.5} mx={13} tx={22} rowY={[11, 30.5, 49]}
                items={[{ kind: "dot", r: 1.5, color: BLUE, label: "CBH1" }, { kind: "plus", r: 2.5, w: 1, color: RED, label: "CBH2" }, { kind: "plus", r: 3.5, w: 2.2, color: BLACK, label: "CBH3" }]} />
            )} />
        </ScatterChart>
      </div>

      {/* bottom zoom 12-18 */}
      <div style={{ position: "absolute", left: 0, top: 600 }}>
        <ScatterChart width={520} height={278} margin={{ top: 12, right: 26, bottom: 0, left: 0 }}>
          <XAxis type="number" dataKey="x" domain={[0, 360]} ticks={C_TICKS} interval={0} tickFormatter={fmt(C_TICKS, C_TICK_LABELS)}
            height={39} tick={tickB} tickSize={-6} tickMargin={12} axisLine={axisThick} tickLine={axisThick}
            label={xLabel("Time (IST)", 36, { fontFamily: SERIF, fontWeight: 700, fontSize: 17 })} />
          <XAxis xAxisId="top" orientation="top" type="number" domain={[0, 360]} ticks={C_TICKS} height={0} tick={false} tickSize={-6} axisLine={axisThick} tickLine={axisThick} />
          <YAxis type="number" dataKey="y" domain={[0, 4]} ticks={C_YTICKS} interval={0} width={41} tick={tickB} tickSize={-6} tickMargin={9}
            axisLine={axisThick} tickLine={axisThick}
            label={yLabel("Altitude (km)", 20, { fontFamily: SERIF, fontWeight: 700, fontSize: 19 })} />
          <YAxis yAxisId="right" orientation="right" type="number" domain={[0, 4]} ticks={C_YTICKS} width={0} tick={false} tickSize={-6} axisLine={axisThick} tickLine={axisThick} />
          <Scatter data={pts(C_CBH1)} shape={plus(BLUE, 3, 2.1)} isAnimationActive={false} />
          <ReferenceDot x={257} y={1.46} ifOverflow="visible" shape={(p: any) => <ellipse cx={p.cx} cy={p.cy} rx={29} ry={50} fill="none" stroke="#cc1111" strokeWidth={2} />} />
          <ReferenceDot x={342} y={0.88} ifOverflow="visible" shape={(p: any) => <ellipse cx={p.cx} cy={p.cy} rx={24} ry={34} fill="none" stroke="#cc1111" strokeWidth={2} />} />
          <ReferenceLine ifOverflow="visible" segment={[{ x: 247, y: 1.43 }, { x: 264, y: 1.97 }]} shape={arrowShape({ color: "#e02ae0", width: 2.5, head: 7 })} />
          <ReferenceLine ifOverflow="visible" segment={[{ x: 325, y: 0.88 }, { x: 346, y: 0.56 }]} shape={arrowShape({ color: "#e02ae0", width: 2.5, head: 7 })} />
        </ScatterChart>
      </div>

      {/* titles, panel letters, zoom connectors */}
      <svg width={610} height={878} style={{ position: "absolute", left: 0, top: 0, pointerEvents: "none" }}>
        <text x={12} y={21} style={{ fontFamily: SANS, fontSize: 13 }} fill="#000">(a)</text>
        <text x={150} y={37} textAnchor="middle" style={{ fontFamily: SERIF, fontSize: 12 }} fill="#000">CBH from Ceilometer on 25 Jul 2013</text>
        <text x={9} y={318} style={{ fontFamily: SANS, fontSize: 12 }} fill="#000">(b)</text>
        <text x={277} y={321} textAnchor="middle" style={{ fontFamily: SERIF, fontSize: 18, fontWeight: 700 }} fill="#000">CBH from Ceilometer on 02 Aug 2014</text>
        <line x1={159} y1={65} x2={326} y2={16} stroke="#333" strokeWidth={1} />
        <path d="M327,15.6 L320,15.2 L322,20.6 Z" fill="#333" />
        <line x1={167} y1={182} x2={326} y2={230.5} stroke="#333" strokeWidth={1} />
        <path d="M327,231 L321.5,226.2 L320,231.4 Z" fill="#333" />
      </svg>
    </div>
  );
}
